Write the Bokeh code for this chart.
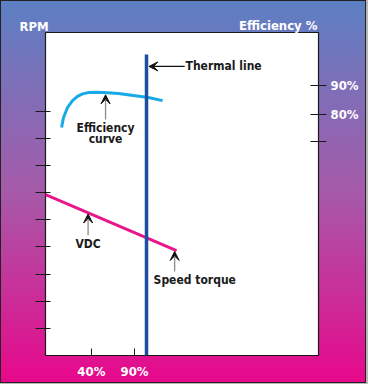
from bokeh.plotting import figure
from bokeh.models import (Arrow, VeeHead, Label, FixedTicker, LinearAxis,
                          Range1d, ColumnDataSource)
from bokeh.core.properties import value
from bokeh.embed import file_html
from bokeh.resources import INLINE

# ---- data (arbitrary schematic units, 0..100 on both axes) ----
eff_x = [5.9, 6.6, 8.1, 9.9, 11.7, 13.6, 15.8, 18.3, 21.2, 26.7, 32.2, 37.7, 42.9]
eff_y = [70.6, 73.7, 76.8, 78.9, 80.2, 81.0, 81.4, 81.5, 81.4, 81.1, 80.5, 79.9, 78.9]

vdc_x = [0.0, 48.0]
vdc_y = [49.8, 32.5]

thermal_x = [37.0, 37.0]
thermal_y = [0.0, 93.2]

x_ticks = [16.8, 32.6]
x_tick_labels = ["40%", "90%"]

rpm_ticks = [8.4, 16.8, 25.2, 33.6, 42.0, 50.4, 58.8, 67.2, 75.6]

eff_ticks = [83.6, 74.6, 66.3]
eff_tick_labels = ["90%", "80%", ""]

ann_text = ["Thermal line", "Efficiency", "curve", "VDC", "Speed torque"]
ann_x = [51.3, 22.0, 22.0, 15.6, 39.6]
ann_y = [89.5, 70.4, 66.9, 34.4, 23.5]
ann_align = ["left", "center", "center", "center", "left"]

arr_x0 = [51.0, 22.0, 15.6, 47.3]
arr_y0 = [89.5, 73.1, 37.2, 26.0]
arr_x1 = [37.9, 22.0, 15.6, 47.3]
arr_y1 = [89.5, 80.7, 43.8, 32.2]
arr_color = ["#111111", "#8a8a8a", "#8a8a8a", "#8a8a8a"]

FONT = "DejaVu Sans Condensed, Roboto"
W, H = 368, 384

p = figure(width=W, height=H, x_range=Range1d(0, 100), y_range=Range1d(0, 100),
           output_backend="svg", toolbar_location=None,
           min_border_left=45, min_border_right=50, min_border_top=32, min_border_bottom=29,
           border_fill_color=None, background_fill_color="white",
           outline_line_color="#1a1a1a", outline_line_width=1.2,
           styles={"background": "linear-gradient(to bottom, #5c80c4 0%, #a65aa9 50%, #e8078b 100%)",
                   "box-shadow": "inset -2px -1px 0 #b8b8b8, inset 0 0 0 1px #222, inset -3px -2px 0 #222"})
p.grid.visible = False

# bottom axis
xa = p.xaxis[0]
xa.ticker = FixedTicker(ticks=x_ticks)
xa.major_label_overrides = dict(zip(x_ticks, x_tick_labels))
xa.major_tick_in = 7
xa.major_tick_out = 0
xa.minor_tick_line_color = None
xa.axis_line_color = None
xa.major_tick_line_color = "#1a1a1a"
xa.major_label_text_color = "white"
xa.major_label_text_font = FONT
xa.major_label_text_font_style = "bold"
xa.major_label_text_font_size = "13px"
xa.major_label_standoff = 8

# left axis (RPM, unlabeled ticks)
ya = p.yaxis[0]
ya.ticker = FixedTicker(ticks=rpm_ticks)
ya.major_label_overrides = {t: "" for t in rpm_ticks}
ya.major_tick_in = 5
ya.major_tick_out = 10
ya.minor_tick_line_color = None
ya.axis_line_color = None
ya.major_tick_line_color = "#1a1a1a"

# right axis (Efficiency %)
ra = LinearAxis(ticker=FixedTicker(ticks=eff_ticks))
ra.major_label_overrides = dict(zip(eff_ticks, eff_tick_labels))
ra.major_tick_in = 8
ra.major_tick_out = 8
ra.minor_tick_line_color = None
ra.axis_line_color = None
ra.major_tick_line_color = "#1a1a1a"
ra.major_label_text_color = "white"
ra.major_label_text_font = FONT
ra.major_label_text_font_style = "bold"
ra.major_label_text_font_size = "13px"
ra.major_label_standoff = 4
p.add_layout(ra, "right")

# series
p.line(eff_x, eff_y, line_color="#18aae8", line_width=3)
p.line(vdc_x, vdc_y, line_color="#e8168a", line_width=3)
p.line(thermal_x, thermal_y, line_color="#1b4fa2", line_width=3.5)

# arrows
for x0, y0, x1, y1, c in zip(arr_x0, arr_y0, arr_x1, arr_y1, arr_color):
    p.add_layout(Arrow(x_start=x0, y_start=y0, x_end=x1, y_end=y1,
                       line_color=c, line_width=1.3,
                       end=VeeHead(size=9, fill_color="#111111", line_color="#111111",
                                   line_width=1)))

# annotation texts
src = ColumnDataSource(dict(x=ann_x, y=ann_y, text=ann_text, align=ann_align))
p.text(x="x", y="y", text="text", source=src, text_align="align",
       text_baseline="middle", text_font=value(FONT), text_font_style="bold",
       text_font_size="12px", text_color="#1a1a1a")

# titles, placed in the top side panel
p.add_layout(Label(x=-26, y=6, x_units="screen", y_units="screen", text="RPM",
                   text_baseline="middle", text_color="white", text_font=FONT,
                   text_font_style="bold", text_font_size="13px"), "above")
p.add_layout(Label(x=272, y=-8, x_units="screen", y_units="screen", text="Efficiency %",
                   text_baseline="middle", text_align="right", text_color="white",
                   text_font=FONT, text_font_style="bold", text_font_size="13px"), "above")

open("out.html", "w").write(file_html(p, INLINE))
